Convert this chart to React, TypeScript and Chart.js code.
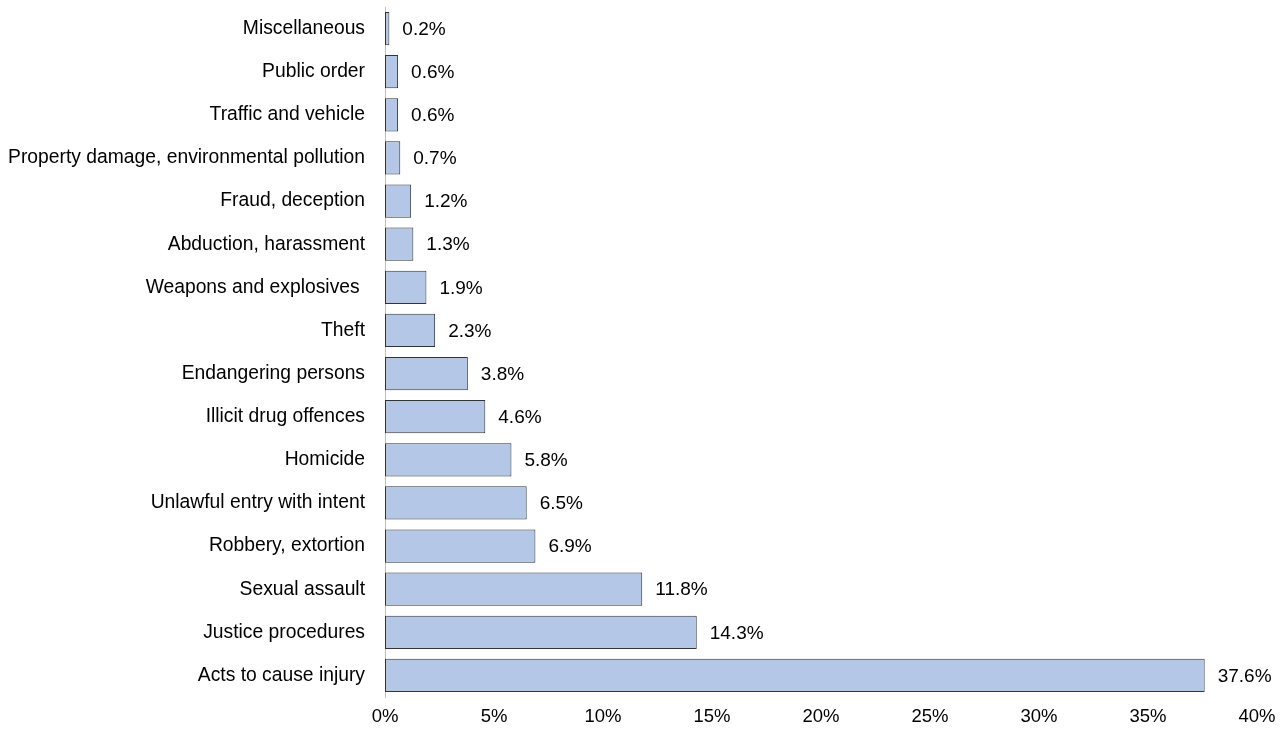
import React, { useEffect, useRef } from "react";
import { Chart, registerables } from "chart.js";

Chart.register(...registerables);

const categories = [
  "Miscellaneous",
  "Public order",
  "Traffic and vehicle",
  "Property damage, environmental pollution",
  "Fraud, deception",
  "Abduction, harassment",
  "Weapons and explosives ",
  "Theft",
  "Endangering persons",
  "Illicit drug offences",
  "Homicide",
  "Unlawful entry with intent",
  "Robbery, extortion",
  "Sexual assault",
  "Justice procedures",
  "Acts to cause injury",
];

const shares = [0.2, 0.6, 0.6, 0.7, 1.2, 1.3, 1.9, 2.3, 3.8, 4.6, 5.8, 6.5, 6.9, 11.8, 14.3, 37.6];

const xTicks = [0, 5, 10, 15, 20, 25, 30, 35, 40];

const FONT = "'Liberation Sans', Arial, sans-serif";

const valueLabels = {
  id: "valueLabels",
  afterDatasetsDraw(chart: any) {
    const ctx = chart.ctx;
    const meta = chart.getDatasetMeta(0);
    ctx.save();
    ctx.font = `19px ${FONT}`;
    ctx.fillStyle = "#000";
    ctx.textAlign = "left";
    ctx.textBaseline = "middle";
    meta.data.forEach((bar: any, i: number) => {
      ctx.fillText(shares[i].toFixed(1) + "%", bar.x + 13, bar.y + 1);
    });
    ctx.restore();
  },
};

export default function App() {
  const ref = useRef<HTMLCanvasElement>(null);
  useEffect(() => {
    if (!ref.current) return;
    const chart = new Chart(ref.current, {
      type: "bar",
      data: {
        labels: categories,
        datasets: [
          {
            data: shares,
            backgroundColor: "#B4C7E7",
            borderColor: "#333333",
            borderWidth: 1,
            borderSkipped: false,
            barPercentage: 0.77,
            categoryPercentage: 1,
          },
        ],
      },
      plugins: [valueLabels],
      options: {
        indexAxis: "y",
        animation: false,
        responsive: false,
        maintainAspectRatio: false,
        layout: { padding: { top: 7, right: 25, bottom: 0, left: 0 } },
        plugins: { legend: { display: false }, tooltip: { enabled: false } },
        scales: {
          x: {
            min: 0,
            max: 40,
            afterBuildTicks: (scale: any) => {
              scale.ticks = xTicks.map((v) => ({ value: v }));
            },
            afterFit: (scale: any) => {
              scale.height = 38;
              scale.paddingLeft = 0;
              scale.paddingRight = 0;
            },
            grid: { display: false, drawTicks: false },
            border: { display: false },
            ticks: {
              padding: 9,
              color: "#000",
              font: { family: FONT, size: 18.5 },
              callback: (v: any) => v + "%",
            },
          },
          y: {
            afterFit: (scale: any) => {
              scale.width = 385;
              scale.paddingTop = 0;
              scale.paddingBottom = 0;
            },
            grid: { display: false, drawTicks: false },
            border: { display: true, color: "#BFBFBF", width: 1 },
            ticks: {
              padding: 20,
              color: "#000",
              font: { family: FONT, size: 19.3 },
              autoSkip: false,
            },
          },
        },
      },
    });
    return () => chart.destroy();
  }, []);
  return (
    <div style={{ position: "absolute", left: 0, top: 0, width: 1282, height: 735, background: "#fff" }}>
      <canvas ref={ref} width={1282} height={735} style={{ display: "block" }} />
    </div>
  );
}
